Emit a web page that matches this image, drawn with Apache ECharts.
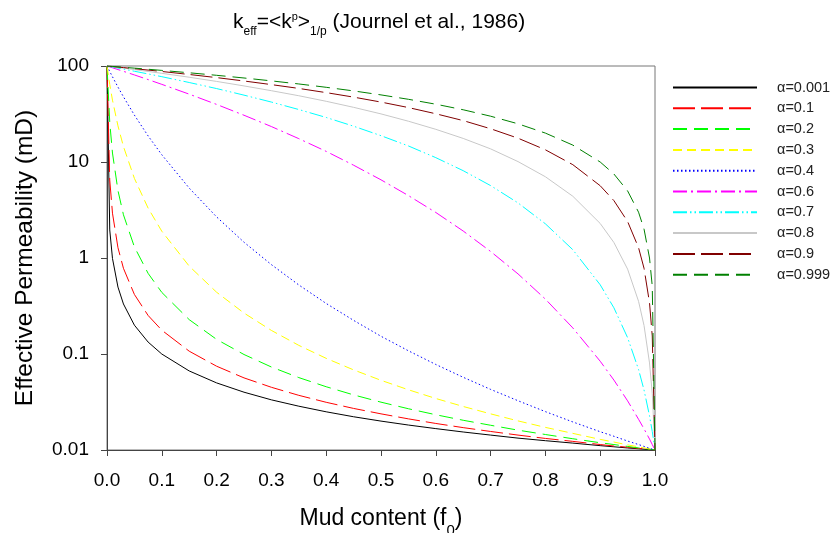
<!DOCTYPE html>
<html>
<head>
<meta charset="utf-8">
<script src="https://cdn.jsdelivr.net/npm/echarts@6/dist/echarts.min.js"></script>
<style>
  html, body { margin: 0; padding: 0; background: #fff; }
  #chart { width: 831px; height: 533px; }
</style>
</head>
<body>
<div id="chart"></div>
<script>
// mud content (x) sample points
const mudContent = [0, 0.005, 0.01, 0.02, 0.03, 0.05, 0.075, 0.1, 0.15, 0.2, 0.25, 0.3, 0.35, 0.4, 0.45, 0.5,
  0.55, 0.6, 0.65, 0.7, 0.75, 0.8, 0.85, 0.9, 0.925, 0.95, 0.97, 0.98, 0.99, 0.995, 1];

// effective permeability (mD)
const a0001 = [100, 1.96, 0.99, 0.498, 0.332, 0.1996, 0.1332, 0.0999, 0.0666, 0.05, 0.04, 0.0333, 0.0286, 0.025, 0.0222, 0.02,
  0.0182, 0.0167, 0.0154, 0.0143, 0.0133, 0.0125, 0.0118, 0.0111, 0.0108, 0.0105, 0.0103, 0.0102, 0.0101, 0.01005, 0.01];
const a01 = [100, 6.49, 2.93, 1.28, 0.781, 0.417, 0.252, 0.177, 0.107, 0.0746, 0.0564, 0.045, 0.0371, 0.0314, 0.0271, 0.0238,
  0.0211, 0.0189, 0.0171, 0.0156, 0.0143, 0.0132, 0.0123, 0.0114, 0.011, 0.0107, 0.0104, 0.0103, 0.0101, 0.0101, 0.01];
const a02 = [100, 25.9, 12.4, 5.04, 2.82, 1.305, 0.692, 0.438, 0.228, 0.142, 0.0988, 0.0732, 0.0568, 0.0456, 0.0375, 0.0315,
  0.0269, 0.0233, 0.0204, 0.0181, 0.0161, 0.0145, 0.0131, 0.0119, 0.0114, 0.0109, 0.0105, 0.0103, 0.0102, 0.0101, 0.01];
const a03 = [100, 64.2, 44.1, 23.8, 14.5, 6.75, 3.31, 1.9, 0.823, 0.44, 0.267, 0.176, 0.123, 0.0901, 0.0683, 0.0532,
  0.0424, 0.0344, 0.0284, 0.0238, 0.0201, 0.0172, 0.0149, 0.0129, 0.0121, 0.0113, 0.0108, 0.0105, 0.0103, 0.0101, 0.01];
const a04 = [100, 87.7, 77.2, 60.3, 47.8, 30.8, 18.7, 11.9, 5.35, 2.68, 1.46, 0.853, 0.524, 0.336, 0.224, 0.153,
  0.108, 0.0778, 0.0572, 0.0428, 0.0326, 0.0251, 0.0196, 0.0155, 0.0139, 0.0124, 0.0114, 0.0109, 0.0104, 0.0102, 0.01];
const a06 = [100, 97.9, 95.8, 91.8, 88, 80.7, 72.2, 64.4, 50.9, 39.8, 30.7, 23.4, 17.5, 12.9, 9.26, 6.52,
  4.47, 2.98, 1.91, 1.17, 0.683, 0.373, 0.187, 0.0841, 0.0535, 0.0325, 0.0209, 0.0166, 0.013, 0.0114, 0.01];
const a07 = [100, 98.8, 97.6, 95.2, 92.8, 88.2, 82.7, 77.4, 67.3, 58.2, 49.7, 42.1, 35.2, 29.1, 23.6, 18.8,
  14.7, 11.1, 8.12, 5.68, 3.75, 2.27, 1.22, 0.526, 0.303, 0.148, 0.0689, 0.0421, 0.0227, 0.0156, 0.01];
const a08 = [100, 99.2, 98.4, 96.7, 95.1, 91.8, 87.8, 83.9, 76.4, 69.1, 62, 55.3, 49, 42.9, 37.1, 31.7,
  26.6, 21.9, 17.6, 13.7, 10.1, 7.02, 4.4, 2.29, 1.45, 0.766, 0.354, 0.198, 0.0807, 0.0387, 0.01];
const a09 = [100, 99.4, 98.7, 97.5, 96.3, 93.8, 90.7, 87.7, 81.6, 75.7, 69.8, 64, 58.4, 52.8, 47.4, 42.1,
  36.9, 31.8, 27, 22.2, 17.7, 13.4, 9.38, 5.66, 3.96, 2.4, 1.28, 0.781, 0.341, 0.154, 0.01];
const a0999 = [100, 99.5, 99, 98, 97, 95, 92.5, 90, 85, 80, 75, 70, 65, 60, 55, 50,
  45, 40, 35, 30, 25, 20, 15, 10, 7.5, 5, 3, 2, 1, 0.51, 0.01];

const yTicks = [0.01, 0.1, 1, 10, 100];

const curves = [
  { name: 'α=0.001', values: a0001, color: '#000000', dash: 'solid' },
  { name: 'α=0.1', values: a01, color: '#ff0000', dash: [22, 6] },
  { name: 'α=0.2', values: a02, color: '#00ff00', dash: [14, 7] },
  { name: 'α=0.3', values: a03, color: '#ffff00', dash: [9, 5] },
  { name: 'α=0.4', values: a04, color: '#0000ff', dash: [1.5, 2.5] },
  { name: 'α=0.6', values: a06, color: '#ff00ff', dash: [14, 4, 2, 4] },
  { name: 'α=0.7', values: a07, color: '#00ffff', dash: [14, 3, 1.5, 3, 1.5, 3] },
  { name: 'α=0.8', values: a08, color: '#c8c8c8', dash: 'solid' },
  { name: 'α=0.9', values: a09, color: '#800000', dash: [22, 6] },
  { name: 'α=0.999', values: a0999, color: '#008000', dash: [14, 7] }
];

const font = '"Liberation Sans", Arial, sans-serif';
const chart = echarts.init(document.getElementById('chart'));

chart.setOption({
  animation: false,
  backgroundColor: '#fff',
  title: {
    text: '{n|k}{sub|eff}{n|=<k}{sup|p}{n|>}{sub2|1/p}{n| (Journel et al., 1986)}',
    left: 228,
    top: 1,
    textStyle: {
      fontFamily: font,
      fontWeight: 'normal',
      rich: {
        n: { fontSize: 21, color: '#000', fontFamily: font, fontWeight: 'normal', lineHeight: 32, verticalAlign: 'middle' },
        sub: { fontSize: 12, color: '#000', fontFamily: font, fontWeight: 'normal', verticalAlign: 'bottom', lineHeight: 12 },
        sub2: { fontSize: 12, color: '#000', fontFamily: font, fontWeight: 'normal', verticalAlign: 'bottom', lineHeight: 12 },
        sup: { fontSize: 11, color: '#000', fontFamily: font, fontWeight: 'normal', verticalAlign: 'top', lineHeight: 11, padding: [5, 0, 0, 0] }
      }
    }
  },
  legend: {
    orient: 'vertical',
    left: 672,
    top: 80,
    padding: 0,
    itemWidth: 84,
    itemHeight: 14,
    itemGap: 5.8,
    itemStyle: { opacity: 0 },
    textStyle: { fontFamily: font, fontSize: 14.5, color: '#222', padding: [0, 0, 0, 15] },
    data: curves.map(c => c.name)
  },
  grid: {
    left: 107, right: 176, top: 66, bottom: 83,
    outerBoundsMode: 'none',
    show: true, borderColor: '#777', borderWidth: 1
  },
  xAxis: {
    type: 'value',
    min: 0, max: 1, interval: 0.1,
    name: '{n|Mud content (f}{s|0}{n|)}',
    nameLocation: 'middle',
    nameGap: 57,
    nameTextStyle: {
      rich: {
        n: { fontSize: 23, color: '#000', fontFamily: font },
        s: { fontSize: 15, color: '#000', fontFamily: font, verticalAlign: 'bottom', padding: [0, 0, -8, 0] }
      }
    },
    splitLine: { show: false },
    axisLine: { lineStyle: { color: '#444' } },
    axisTick: { inside: false, length: 6, lineStyle: { color: '#444' } },
    axisLabel: {
      margin: 21, fontSize: 19, color: '#000', fontFamily: font,
      formatter: v => v.toFixed(1)
    }
  },
  yAxis: {
    type: 'log',
    logBase: 10,
    min: yTicks[0], max: yTicks[yTicks.length - 1],
    name: 'Effective Permeability (mD)',
    nameLocation: 'middle',
    nameGap: 69,
    nameTextStyle: { fontSize: 24.5, color: '#000', fontFamily: font },
    splitLine: { show: false },
    minorTick: { show: false },
    axisLine: { show: true, lineStyle: { color: '#444' } },
    axisTick: { show: true, length: 6, lineStyle: { color: '#444' } },
    axisLabel: {
      margin: 18, fontSize: 19, color: '#000', fontFamily: font,
      formatter: v => String(+v.toPrecision(2))
    }
  },
  series: curves.map(c => ({
    name: c.name,
    type: 'line',
    symbol: 'none',
    showSymbol: false,
    color: c.color,
    lineStyle: { width: 1, color: c.color, type: c.dash },
    data: mudContent.map((f, i) => [f, c.values[i]])
  }))
});
</script>
</body>
</html>
